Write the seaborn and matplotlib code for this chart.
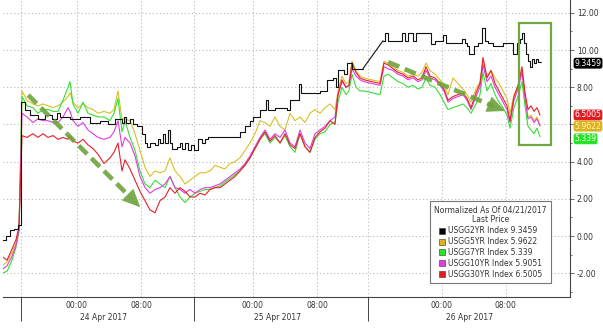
import numpy as np
import pandas as pd
import matplotlib
matplotlib.use("Agg")
import matplotlib.pyplot as plt
import matplotlib.transforms as mtransforms
from matplotlib.lines import Line2D
from matplotlib.patches import Rectangle
import seaborn as sns

# ---------------- data (x = trading-session hours; 0 = start of 24 Apr session) -------------
x_col = [-2.375, -1.75, -1.125, -0.625, -0.25, 0.125, 0.75, 1.5, 2.125, 2.75,
         3.375, 4.0, 4.625, 5.25, 5.875, 6.125, 6.5, 7.125, 7.75, 8.375,
         9.0, 9.625, 10.375, 11.125, 11.625, 12.125, 12.625, 13.0, 13.625, 14.25,
         14.875, 15.5, 16.125, 16.75, 17.375, 18.0, 18.625, 19.25, 19.875, 20.5,
         21.125, 21.75, 22.375, 23.0, 23.625, 24.25, 24.875, 25.5, 26.125, 26.75,
         27.375, 28.0, 28.625, 29.25, 29.875, 30.5, 31.125, 31.75, 32.375, 33.0,
         33.625, 34.25, 34.875, 35.5, 36.125, 36.75, 37.375, 38.0, 38.625, 39.25,
         39.625, 40.125, 40.625, 41.0, 41.375, 41.875, 42.375, 42.875, 44.875, 45.375,
         45.875, 46.5, 47.125, 47.75, 48.375, 49.0, 49.625, 50.125, 50.625, 51.125,
         51.75, 52.375, 52.875, 53.375, 54.0, 54.625, 55.25, 55.75, 56.25, 56.875,
         57.375, 57.75, 58.25, 58.75, 59.25, 59.75, 60.25, 60.75, 61.125, 61.625,
         62.125, 62.625, 63.0, 63.375, 63.75, 64.125, 64.5, 64.875]

usgg5 = [-1.6, -1.4, -0.9, -0.4, 0.4, 7.8, 7.3, 7.1, 7.0, 7.1,
         7.0, 6.9, 7.0, 7.2, 7.5, 7.7, 7.2, 6.9, 7.1, 6.9,
         6.8, 6.6, 6.7, 6.6, 6.8, 7.8, 6.3, 6.3, 6.2, 5.5,
         4.6, 3.7, 3.2, 3.5, 3.4, 3.5, 4.2, 3.5, 3.2, 2.8,
         3.0, 3.2, 3.4, 3.4, 3.5, 3.8, 3.7, 3.6, 3.9, 4.0,
         4.2, 4.6, 5.0, 5.5, 6.2, 6.1, 5.9, 6.4, 5.9, 5.7,
         6.6, 6.2, 6.4, 6.1, 6.6, 6.8, 6.6, 6.9, 7.1, 6.8,
         7.8, 8.6, 8.2, 8.3, 9.4, 8.9, 8.6, 8.5, 8.3, 9.4,
         9.3, 9.1, 8.9, 8.8, 8.6, 8.7, 8.6, 8.8, 9.3, 8.9,
         8.7, 8.4, 8.1, 7.6, 8.5, 8.2, 7.9, 7.6, 7.2, 7.9,
         8.3, 9.4, 8.6, 8.9, 8.5, 8.2, 7.8, 7.4, 6.6, 7.6,
         8.0, 8.9, 7.5, 6.4, 6.5, 6.2, 6.4, 5.9622]

usgg7 = [-2.0, -1.9, -1.3, -0.6, 0.3, 7.5, 7.0, 6.9, 6.6, 6.8,
         6.8, 6.7, 6.7, 7.3, 8.0, 8.3, 7.1, 6.6, 7.2, 6.6,
         6.5, 6.4, 6.4, 6.2, 6.6, 7.4, 5.6, 6.2, 5.3, 4.6,
         3.5, 2.8, 2.6, 3.0, 2.8, 2.6, 3.2, 2.6, 2.1, 1.8,
         2.1, 2.3, 2.4, 2.5, 2.5, 2.6, 2.7, 2.9, 3.1, 3.3,
         3.5, 3.8, 4.2, 4.7, 5.2, 5.5, 5.0, 5.3, 5.0, 5.4,
         4.8, 4.5, 5.5, 4.8, 4.5, 5.2, 5.5, 5.6, 6.0, 6.1,
         7.2, 8.0, 7.6, 7.8, 8.7, 8.0, 7.8, 7.8, 7.6, 8.6,
         8.7, 8.5, 8.3, 8.2, 8.0, 8.1, 7.9, 8.0, 8.5, 8.1,
         8.0, 7.6, 7.2, 6.8, 6.9, 7.0, 7.1, 6.9, 6.6, 7.1,
         7.6, 8.8, 7.8, 8.2, 7.6, 7.2, 6.9, 6.5, 5.8, 6.9,
         7.5, 8.3, 7.0, 5.9, 5.7, 5.5, 5.8, 5.339]

usgg10 = [-1.8, -1.6, -1.1, -0.5, 0.3, 6.6, 6.4, 6.1, 6.3, 6.2,
          6.2, 6.1, 6.1, 6.4, 6.9, 6.7, 6.2, 5.9, 6.1, 5.7,
          5.5, 5.3, 5.2, 5.3, 5.6, 6.2, 4.8, 5.3, 5.0, 4.3,
          3.2, 2.6, 2.3, 2.5, 2.6, 2.8, 3.2, 2.6, 2.5, 2.3,
          2.5, 2.3, 2.5, 2.6, 2.6, 2.7, 2.8, 3.0, 3.2, 3.4,
          3.6, 3.9, 4.3, 4.8, 5.3, 5.7, 5.2, 5.5, 5.3, 5.7,
          5.0, 4.8, 5.7, 5.0, 4.7, 5.5, 5.7, 5.9, 6.2, 6.4,
          7.6, 8.3, 8.0, 8.1, 9.0, 8.6, 8.4, 8.3, 8.1, 9.1,
          9.0, 8.9, 8.7, 8.6, 8.4, 8.5, 8.3, 8.4, 8.9, 8.5,
          8.4, 8.1, 7.8, 7.2, 7.4, 7.5, 7.6, 7.3, 6.8, 7.5,
          8.0, 9.2, 8.3, 8.6, 8.0, 7.6, 7.2, 6.8, 6.1, 7.3,
          7.9, 8.8, 7.4, 6.3, 6.4, 6.1, 6.3, 5.9051]

usgg30 = [-1.1, -1.3, -0.7, -0.2, 0.5, 5.4, 5.3, 5.5, 5.3, 5.5,
          5.3, 5.4, 5.2, 5.3, 5.2, 5.4, 5.1, 5.0, 5.2, 4.9,
          4.7, 4.4, 3.9, 4.2, 4.5, 5.0, 3.5, 4.1, 3.6, 3.0,
          2.4, 1.9, 1.4, 1.25, 1.9, 2.1, 2.6, 2.3, 2.6, 2.4,
          2.1, 2.1, 2.3, 2.2, 2.5, 2.6, 2.6, 2.8, 3.0, 3.2,
          3.5, 3.8, 4.2, 4.7, 5.2, 5.6, 5.1, 5.4, 5.0, 5.5,
          4.9, 4.7, 5.5, 4.8, 4.5, 5.3, 5.6, 5.8, 6.2, 6.0,
          7.6, 8.4, 8.0, 8.1, 9.3, 8.8, 8.5, 8.4, 8.2, 9.3,
          9.2, 9.0, 8.8, 8.7, 8.5, 8.6, 8.4, 8.5, 9.1, 8.6,
          8.5, 8.2, 7.9, 7.3, 7.5, 7.6, 7.7, 7.4, 6.9, 7.7,
          8.2, 9.6, 8.5, 8.9, 8.2, 7.8, 7.4, 7.0, 6.2, 7.5,
          8.1, 9.1, 7.7, 6.8, 7.0, 6.7, 6.9, 6.5005]

# 2-year yield (step series), 21-25 Apr and 26 Apr sessions
x_2y_a = [-2.375, -1.875, -1.375, -0.875, -0.375, 0.0, 0.5, 1.125, 2.125, 3.0,
          3.875, 4.5, 4.875, 6.125, 7.375, 8.625, 9.875, 10.875, 11.75, 12.625,
          12.875, 13.125, 13.625, 14.0, 14.5, 15.125, 15.5, 15.75, 16.125, 16.75,
          17.125, 17.375, 17.75, 18.0, 18.375, 18.625, 18.875, 19.5, 19.875, 20.125,
          20.5, 20.875, 21.25, 21.625, 22.125, 22.625, 23.0, 23.375, 27.375, 28.0,
          28.625, 29.0, 29.875, 30.625, 30.875, 31.75, 33.25, 33.625, 34.75, 35.0,
          37.375, 38.25, 39.0, 39.375, 39.625, 40.375, 40.75, 41.375, 42.75]
usgg2_a = [-0.2, 0.0, 0.3, 0.4, 0.6, 7.2, 6.8, 6.5, 6.3, 6.5,
           6.3, 6.6, 6.4, 6.3, 6.4, 6.1, 6.2, 6.0, 6.3, 6.1,
           6.4, 6.1, 6.3, 6.0, 5.9, 5.5, 5.0, 4.8, 5.0, 4.9,
           5.2, 5.0, 5.5, 5.0, 5.7, 5.0, 4.7, 4.8, 5.0, 4.7,
           5.0, 4.6, 4.9, 4.6, 5.2, 5.0, 5.2, 5.3, 5.6, 5.9,
           6.2, 6.4, 6.8, 7.3, 6.8, 6.9, 6.8, 7.3, 8.2, 7.7,
           7.8, 8.4, 8.5, 8.0, 8.9, 8.7, 9.3, 9.0, 9.0]
x_2y_b = [45.25, 45.5, 45.875, 47.625, 48.0, 48.375, 49.0, 49.375, 51.25, 51.75,
          52.75, 53.125, 55.125, 55.5, 55.75, 56.0, 56.625, 57.125, 57.625, 58.0,
          58.375, 59.0, 60.25, 61.5, 62.0, 62.375, 62.625, 62.875, 63.125, 63.375,
          63.625, 63.875, 64.125, 64.375, 64.625, 65.0]
usgg2_b = [10.5, 10.9, 10.5, 10.9, 10.5, 10.9, 10.5, 10.9, 10.3, 10.5,
           10.8, 10.4, 10.6, 10.4, 10.2, 9.8, 10.2, 10.4, 11.2, 10.5,
           10.4, 10.2, 10.4, 9.8, 10.4, 10.6, 10.9, 10.4, 9.8, 9.4,
           9.1, 9.5, 9.3, 9.5, 9.35, 9.3459]

names = ["USGG2YR Index", "USGG5YR Index", "USGG7YR Index", "USGG10YR Index", "USGG30YR Index"]
last_vals = ["9.3459", "5.9622", "5.339", "5.9051", "6.5005"]
line_colors = ["#111111", "#d8c024", "#35e035", "#e03ce0", "#e6202a"]
box_colors = ["#000000", "#dcb21e", "#22e622", "#e03ce0", "#e31b23"]
box_text_colors = ["white", "#fff3b0", "white", "white", "white"]

y_ticks = [-2, 0, 2, 4, 6, 8, 10, 12]
y_tick_labels = ["-2.00", "0.00", "2.00", "4.00", "", "8.00", "10.00", "12.00"]  # 6.00 sits under the value tags
sep_pos = [0.0, 21.625, 43.375]
major_pos = [7.0, 15.0, 29.0, 37.0, 52.6, 60.6]
major_lab = ["00:00", "08:00", "00:00", "08:00", "00:00", "08:00"]
minor_pos = [3.1, 7.0, 11.1, 15.0, 19.1, 24.9, 29.0, 32.9, 37.0, 40.9, 48.6, 52.6, 56.6, 60.6, 64.5]
date_pos = [10.25, 32.1, 56.1]
date_lab = ["24 Apr 2017", "25 Apr 2017", "26 Apr 2017"]

arrow1 = ((0.9, 7.58), (14.9, 1.55))
arrow2 = ((45.9, 9.35), (60.5, 6.72))
box_x, box_y = (62.25, 66.25), (4.9, 11.45)

# ---------------- plotting ----------------
sns.set_style("white")
plt.rcParams["font.family"] = ["DejaVu Sans"]

fig = plt.figure(figsize=(6.03, 3.35), dpi=100)
ax = fig.add_axes([3 / 603, 1 - 297 / 335, 567 / 603, 297 / 335])

df = pd.DataFrame({
    "x": x_col * 4,
    "y": usgg5 + usgg7 + usgg10 + usgg30,
    "s": sum([[n] * len(x_col) for n in names[1:]], []),
})

# grid first
for v in y_ticks:
    ax.axhline(v, color="#b8b8b8", lw=0.8, ls=(0, (1, 2.2)), zorder=0)
for v in sep_pos + major_pos:
    ax.axvline(v, color="#b8b8b8", lw=0.8, ls=(0, (1, 2.2)), zorder=0)

sns.lineplot(data=df, x="x", y="y", hue="s", hue_order=names[1:],
             palette=line_colors[1:], sort=False, estimator=None,
             lw=0.8, legend=False, ax=ax)
sns.lineplot(x=x_2y_a, y=usgg2_a, color=line_colors[0], lw=0.8,
             drawstyle="steps-post", sort=False, estimator=None, ax=ax)
sns.lineplot(x=x_2y_b, y=usgg2_b, color=line_colors[0], lw=0.8,
             drawstyle="steps-post", sort=False, estimator=None, ax=ax)
sns.lineplot(x=[x_2y_a[-1], x_2y_b[0]], y=[usgg2_a[-1], usgg2_b[0]],
             color=line_colors[0], lw=0.8, sort=False, estimator=None, ax=ax)

# annotations: dashed shaft + solid head
arrow_col = "#6ea33c"
for (x0, y0), (x1, y1) in (arrow1, arrow2):
    f = 0.9
    xb, yb = x0 + f * (x1 - x0), y0 + f * (y1 - y0)
    ax.plot([x0, xb], [y0, yb], color=arrow_col, lw=3.3, ls=(0, (2.6, 1.3)),
            solid_capstyle="butt", dash_capstyle="butt", alpha=0.9, zorder=6)
    ax.annotate("", xy=(x1, y1), xytext=(xb, yb),
                arrowprops=dict(arrowstyle="-|>,head_length=1.2,head_width=0.55",
                                lw=0.5, color=arrow_col, alpha=0.9,
                                shrinkA=0, shrinkB=0), zorder=6)
ax.add_patch(Rectangle((box_x[0], box_y[0]), box_x[1] - box_x[0], box_y[1] - box_y[0],
                       fill=False, ec="#70a843", lw=1.6, zorder=6))

# axes
ax.set_xlim(-2.25, 68.625)
ax.set_ylim(-3.28, 12.69)
ax.set_xlabel("")
ax.set_ylabel("")
for s in ("top", "left"):
    ax.spines[s].set_visible(False)
for s in ("bottom", "right"):
    ax.spines[s].set_color("#444444")
    ax.spines[s].set_linewidth(0.8)

ax.set_xticks(major_pos)
ax.set_xticklabels(major_lab)
ax.set_xticks(minor_pos, minor=True)
ax.tick_params(axis="x", which="both", direction="out", length=2.5, width=0.6,
               color="#555555", labelsize=5.5, labelcolor="#333333", pad=0.5)

ax.yaxis.tick_right()
ax.set_yticks(y_ticks)
ax.set_yticklabels(y_tick_labels)
ax.set_yticks(np.arange(-3, 13, 1), minor=True)
ax.tick_params(axis="y", which="major", direction="out", length=3, width=0.6,
               color="#555555", labelsize=5.5, labelcolor="#333333", pad=2)
ax.tick_params(axis="y", which="minor", direction="out", length=1.5, width=0.6,
               color="#555555")

trans_x = mtransforms.blended_transform_factory(ax.transData, ax.transAxes)
ax.vlines(sep_pos, -0.082, 0, transform=trans_x, colors="#444444", lw=0.7, clip_on=False)
for p, l in zip(date_pos, date_lab):
    ax.text(p, -0.068, l, transform=trans_x, ha="center", va="center",
            fontsize=5.5, color="#333333")

# last-value boxes on right axis
trans_y = mtransforms.blended_transform_factory(ax.transAxes, ax.transData)
nudge = {0: 0.0, 4: 0.06, 1: 0.0, 2: -0.06}
for i in (0, 4, 1, 2):
    ax.text(1.008, float(last_vals[i]) + nudge[i], last_vals[i], transform=trans_y,
            ha="left", va="center_baseline", fontsize=5.6, color=box_text_colors[i],
            zorder=10, clip_on=False,
            bbox=dict(boxstyle="round,pad=0.12,rounding_size=0.3",
                      fc=box_colors[i], ec="none"))

# legend
handles = [Line2D([], [], marker="s", ls="none", markersize=5,
                  markerfacecolor=c, markeredgecolor="#333333", markeredgewidth=0.4)
           for c in box_colors]
labels = [f"{n} {v}" for n, v in zip(names, last_vals)]
leg = ax.legend(handles, labels, title="Normalized As Of 04/21/2017\nLast Price",
                loc="lower right", bbox_to_anchor=((555 - 3) / 567, 10 / 297),
                fontsize=5.5, title_fontsize=5.5, frameon=True, fancybox=False,
                handlelength=0.8, handletextpad=0.4, labelspacing=0.25,
                borderpad=0.55, edgecolor="#777777", framealpha=1)
leg.get_title().set_multialignment("center")
leg.get_title().set_color("#333333")
for t in leg.get_texts():
    t.set_color("#333333")
leg.get_frame().set_linewidth(0.8)
leg.set_zorder(12)

fig.savefig("out.png", dpi=100)
